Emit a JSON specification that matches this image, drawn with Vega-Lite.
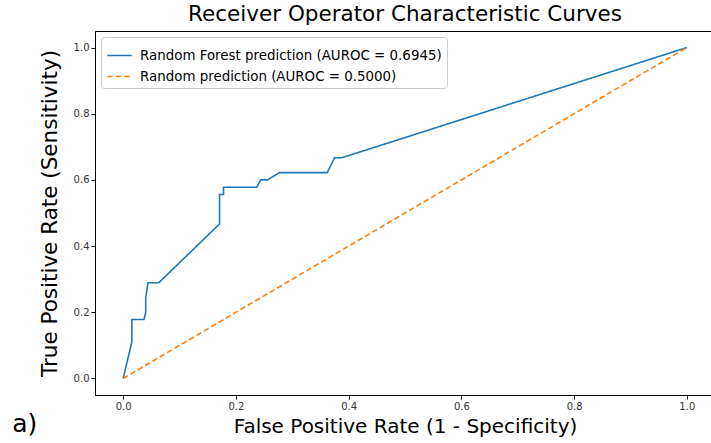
{
  "$schema": "https://vega.github.io/schema/vega-lite/v6.json",
  "autosize": "none",
  "padding": {"left": 95, "top": 31, "right": 0, "bottom": 48},
  "width": 620,
  "height": 364,
  "title": {"text": "Receiver Operator Characteristic Curves", "fontSize": 21.5, "font": "DejaVu Sans", "fontWeight": "normal", "offset": 6, "color": "#000000"},
  "config": {
    "view": {"stroke": "#000000", "strokeWidth": 1},
    "axis": {"grid": false, "labelFont": "DejaVu Sans", "labelFontSize": 10, "labelColor": "#333333", "titleFont": "DejaVu Sans", "titleFontWeight": "normal", "titleColor": "#000000", "domainColor": "#000000", "tickColor": "#000000", "tickSize": 4}
  },
  "layer": [
    {
      "data": {"values": [
        {"series": "Random Forest prediction (AUROC = 0.6945)", "i": 0, "fpr": 0.0, "tpr": 0.0},
        {"series": "Random Forest prediction (AUROC = 0.6945)", "i": 1, "fpr": 0.0154, "tpr": 0.111},
        {"series": "Random Forest prediction (AUROC = 0.6945)", "i": 2, "fpr": 0.0154, "tpr": 0.178},
        {"series": "Random Forest prediction (AUROC = 0.6945)", "i": 3, "fpr": 0.037, "tpr": 0.178},
        {"series": "Random Forest prediction (AUROC = 0.6945)", "i": 4, "fpr": 0.040, "tpr": 0.2},
        {"series": "Random Forest prediction (AUROC = 0.6945)", "i": 5, "fpr": 0.040, "tpr": 0.244},
        {"series": "Random Forest prediction (AUROC = 0.6945)", "i": 6, "fpr": 0.044, "tpr": 0.289},
        {"series": "Random Forest prediction (AUROC = 0.6945)", "i": 7, "fpr": 0.063, "tpr": 0.289},
        {"series": "Random Forest prediction (AUROC = 0.6945)", "i": 8, "fpr": 0.171, "tpr": 0.467},
        {"series": "Random Forest prediction (AUROC = 0.6945)", "i": 9, "fpr": 0.171, "tpr": 0.556},
        {"series": "Random Forest prediction (AUROC = 0.6945)", "i": 10, "fpr": 0.178, "tpr": 0.556},
        {"series": "Random Forest prediction (AUROC = 0.6945)", "i": 11, "fpr": 0.178, "tpr": 0.578},
        {"series": "Random Forest prediction (AUROC = 0.6945)", "i": 12, "fpr": 0.237, "tpr": 0.578},
        {"series": "Random Forest prediction (AUROC = 0.6945)", "i": 13, "fpr": 0.244, "tpr": 0.6},
        {"series": "Random Forest prediction (AUROC = 0.6945)", "i": 14, "fpr": 0.256, "tpr": 0.6},
        {"series": "Random Forest prediction (AUROC = 0.6945)", "i": 15, "fpr": 0.277, "tpr": 0.622},
        {"series": "Random Forest prediction (AUROC = 0.6945)", "i": 16, "fpr": 0.362, "tpr": 0.622},
        {"series": "Random Forest prediction (AUROC = 0.6945)", "i": 17, "fpr": 0.375, "tpr": 0.667},
        {"series": "Random Forest prediction (AUROC = 0.6945)", "i": 18, "fpr": 0.388, "tpr": 0.667},
        {"series": "Random Forest prediction (AUROC = 0.6945)", "i": 19, "fpr": 1.0, "tpr": 1.0},
        {"series": "Random prediction (AUROC = 0.5000)", "i": 0, "fpr": 0.0, "tpr": 0.0},
        {"series": "Random prediction (AUROC = 0.5000)", "i": 1, "fpr": 1.0, "tpr": 1.0}
      ]},
      "mark": {"type": "line", "strokeWidth": 1.6, "clip": true},
      "encoding": {
        "x": {"field": "fpr", "type": "quantitative", "scale": {"domain": [-0.05, 1.05], "nice": false, "zero": false}, "axis": {"title": "False Positive Rate (1 - Specificity)", "titleFontSize": 20, "values": [0, 0.2, 0.4, 0.6, 0.8, 1.0], "format": ".1f", "titlePadding": 5}},
        "y": {"field": "tpr", "type": "quantitative", "scale": {"domain": [-0.05, 1.05], "nice": false, "zero": false}, "axis": {"title": "True Positive Rate (Sensitivity)", "titleFontSize": 21.5, "values": [0, 0.2, 0.4, 0.6, 0.8, 1.0], "format": ".1f", "titlePadding": 12}},
        "order": {"field": "i", "type": "quantitative"},
        "color": {"field": "series", "type": "nominal", "scale": {"range": ["#1f77b4", "#ff7f0e"]}, "legend": {"title": null, "orient": "top-left", "offset": 6, "symbolType": "stroke", "symbolSize": 600, "symbolStrokeWidth": 1.6, "labelFont": "DejaVu Sans", "labelFontSize": 13.4, "labelColor": "#000000", "labelOffset": 7, "rowPadding": 1, "padding": 5, "strokeColor": "#cccccc", "fillColor": "#ffffff", "cornerRadius": 3, "labelLimit": 400}},
        "strokeDash": {"field": "series", "type": "nominal", "scale": {"range": [[1, 0], [5.5, 3]]}, "legend": null}
      }
    },
    {
      "data": {"values": [{"label": "a)", "fx": -0.197, "fy": -0.163}]},
      "mark": {"type": "text", "fontSize": 25, "font": "DejaVu Sans", "align": "left", "baseline": "alphabetic", "color": "#000000"},
      "encoding": {
        "x": {"field": "fx", "type": "quantitative"},
        "y": {"field": "fy", "type": "quantitative"},
        "text": {"field": "label"}
      }
    }
  ]
}
